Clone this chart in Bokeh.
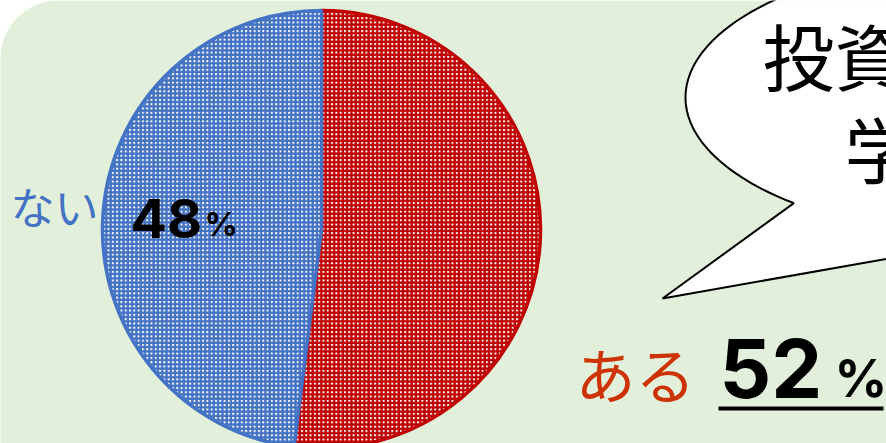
import numpy as np
from bokeh.plotting import figure
from bokeh.models import ColumnDataSource
from bokeh.core.properties import value
from bokeh.embed import file_html
from bokeh.resources import INLINE

# ---- data ----
categories = ["ある", "ない"]
percents = [52, 48]
slice_colors = ["#C00000", "#4472C4"]
label_colors = ["#CC3300", "#4472C4"]
bubble_lines = ["投資", "学"]

W, H = 886, 443
p = figure(width=W, height=H, x_range=(0, W), y_range=(0, H),
           x_axis_location=None, y_axis_location=None,
           toolbar_location=None, output_backend="svg", min_border=0)
p.grid.visible = False
p.outline_line_color = None
p.background_fill_color = "white"
p.border_fill_color = "white"

def Y(y_img):
    return H - y_img

# ---- rounded green background ----
r = 58
t = np.linspace(np.pi, np.pi / 2, 40)
bx = list(r + r * np.cos(t)) + [W + 50, W + 50, -10]
by = [Y(r - r * np.sin(tt)) for tt in t] + [Y(0), Y(H + 50), Y(H + 50)]
bx = [-10] + bx
by = [by[0]] + by
p.patch(bx, by, fill_color="#E2EFDA", line_color=None)

# ---- pie ----
cx, cy, R = 321, Y(229), 219
fr = np.array(percents) / sum(percents)
cum = np.concatenate([[0], np.cumsum(fr)])
starts = np.pi / 2 - 2 * np.pi * cum[:-1]
ends = np.pi / 2 - 2 * np.pi * cum[1:]
src = ColumnDataSource(dict(start=starts, end=ends, color=slice_colors,
                            cat=categories))
p.wedge(x=cx, y=cy, radius=R, start_angle="start", end_angle="end",
        direction="clock", source=src, fill_color="white",
        line_color="color", line_width=3.5,
        hatch_pattern="+", hatch_color="color", hatch_scale=4.3,
        hatch_weight=2.4)

# ---- speech bubble ----
ecx, ecy, ea, eb = 1000, 97, 315, 140
tt = np.linspace(np.deg2rad(131), np.deg2rad(450), 200)
sx = list(ecx + ea * np.cos(tt)) + [950, 662]
sy = [Y(v) for v in (ecy + eb * np.sin(tt))] + [Y(247), Y(298)]
p.patch(sx, sy, fill_color="white", line_color="black", line_width=2)

cjk = value("Noto Sans CJK JP")
p.text(x=[762], y=[Y(53)], text=[bubble_lines[0]], text_font=cjk,
       text_font_size="72px", text_color="black", text_baseline="middle",
       text_align="left")
p.text(x=[844], y=[Y(146)], text=[bubble_lines[1]], text_font=cjk,
       text_font_size="72px", text_color="black", text_baseline="middle",
       text_align="left")

# ---- labels ----
num_font = value("Inter")
# ない 48%
p.text(x=[10], y=[Y(205)], text=[categories[1]], text_font=cjk,
       text_font_size="44px", text_color=label_colors[1],
       text_baseline="middle", text_align="left")
p.text(x=[130], y=[Y(218)], text=[str(percents[1])], text_font=num_font,
       text_font_style="bold", text_font_size="54px", text_color="black",
       text_baseline="middle", text_align="left")
p.text(x=[204], y=[Y(223)], text=["%"], text_font=num_font,
       text_font_style="bold", text_font_size="33px", text_color="black",
       text_baseline="middle", text_align="left")

# ある 52%
p.text(x=[575], y=[Y(372)], text=[categories[0]], text_font=cjk,
       text_font_size="60px", text_color=label_colors[0],
       text_baseline="middle", text_align="left")
p.text(x=[719], y=[Y(368)], text=[str(percents[0])], text_font=num_font,
       text_font_style="bold", text_font_size="81px", text_color="black",
       text_baseline="middle", text_align="left")
p.text(x=[834], y=[Y(378)], text=["%"], text_font=num_font,
       text_font_style="bold", text_font_size="52px", text_color="black",
       text_baseline="middle", text_align="left")
p.segment(x0=[718], y0=[Y(408)], x1=[883], y1=[Y(408)],
          line_color="black", line_width=4)

open("out.html", "w").write(file_html(p, INLINE))
